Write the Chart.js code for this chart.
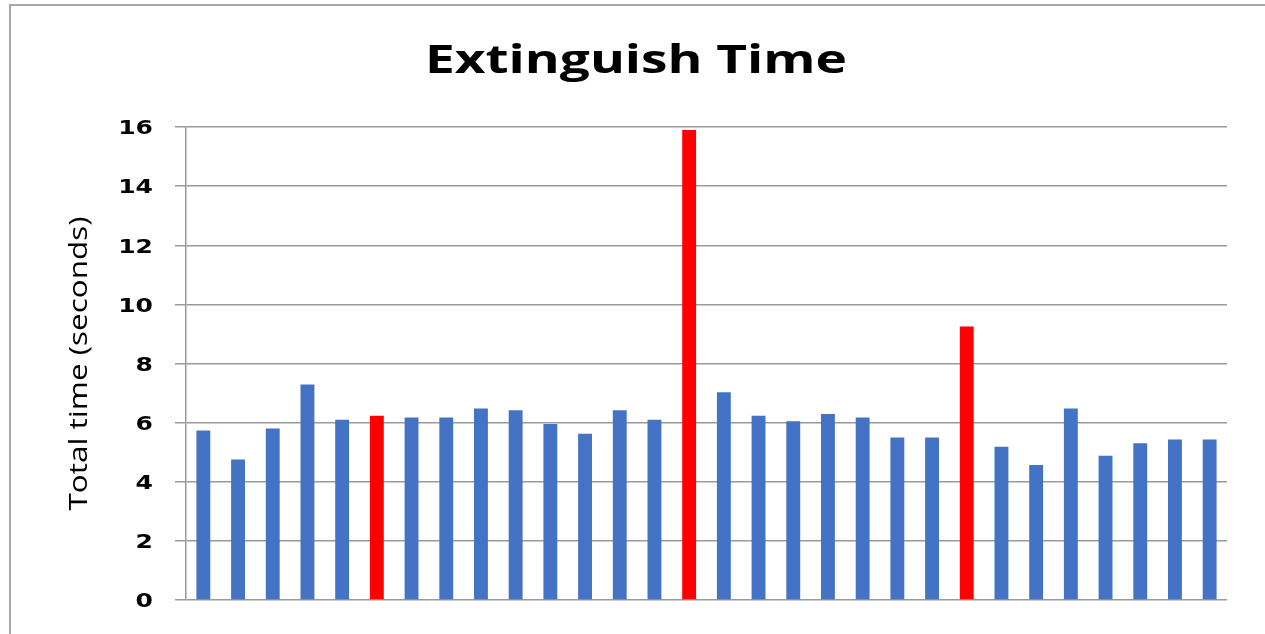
<!DOCTYPE html>
<html>
<head>
<meta charset="utf-8">
<script src="https://cdn.jsdelivr.net/npm/chart.js@4/dist/chart.umd.min.js"></script>
<style>
  html, body { margin: 0; padding: 0; background: #ffffff; }
  #wrap { width: 1265px; height: 634px; position: relative; }
</style>
</head>
<body>
<div id="wrap"><canvas id="c" width="1265" height="634"></canvas></div>
<script>
// Trial numbers along the horizontal axis (not labelled on the chart)
const trials = [1,2,3,4,5,6,7,8,9,10,11,12,13,14,15,16,17,18,19,20,21,22,23,24,25,26,27,28,29,30];

// Total extinguish time per trial, in seconds
const totalTime = [5.73, 4.75, 5.80, 7.29, 6.10, 6.23, 6.17, 6.17, 6.48, 6.42,
                   5.95, 5.62, 6.42, 6.10, 15.9, 7.03, 6.23, 6.05, 6.29, 6.17,
                   5.50, 5.50, 9.25, 5.18, 4.57, 6.48, 4.88, 5.30, 5.43, 5.43];

// Trials highlighted in red (outliers)
const highlighted = [6, 15, 23];

// Y axis tick range
const yMin = 0, yMax = 16, yStep = 2;

const chartTitle = 'Extinguish Time';
const yAxisTitle = 'Total time (seconds)';

const BLUE = '#4472C4';
const RED = '#FF0000';
const GRID = '#9a9a9a';

const barColors = trials.map(t => highlighted.includes(t) ? RED : BLUE);

// White background plus the light grey frame around the chart object
const framePlugin = {
  id: 'frame',
  beforeDraw(chart) {
    const ctx = chart.ctx;
    ctx.save();
    ctx.fillStyle = '#ffffff';
    ctx.fillRect(0, 0, chart.width, chart.height);
    ctx.strokeStyle = '#a6a6a6';
    ctx.lineWidth = 2;
    ctx.strokeRect(10, 5, chart.width + 50, chart.height + 50);
    ctx.restore();
  }
};

// Wide-set text: chart title, rotated axis title and the y tick labels
const textPlugin = {
  id: 'wideText',
  afterDraw(chart) {
    const ctx = chart.ctx;
    const y = chart.scales.y;
    const area = chart.chartArea;
    ctx.save();
    ctx.fillStyle = '#000000';

    // chart title
    ctx.save();
    ctx.font = 'bold 40px "Open Sans"';
    ctx.textAlign = 'center';
    ctx.textBaseline = 'alphabetic';
    ctx.translate(636, 72.5);
    ctx.scale(1.33, 1);
    ctx.fillText(chartTitle, 0, 0);
    ctx.restore();

    // y axis title, reading bottom to top
    ctx.save();
    ctx.font = '26px "Open Sans"';
    ctx.textAlign = 'center';
    ctx.textBaseline = 'alphabetic';
    ctx.translate(87, (area.top + area.bottom) / 2);
    ctx.rotate(-Math.PI / 2);
    ctx.scale(1.21, 1);
    ctx.fillText(yAxisTitle, 0, 0);
    ctx.restore();

    // y tick labels
    ctx.font = 'bold 20px "DejaVu Sans"';
    ctx.textAlign = 'right';
    ctx.textBaseline = 'alphabetic';
    y.ticks.forEach(t => {
      const py = y.getPixelForValue(t.value);
      ctx.save();
      ctx.translate(153, py + 7.3);
      ctx.scale(1.25, 1);
      ctx.fillText(String(t.value), 0, 0);
      ctx.restore();
    });
    ctx.restore();
  }
};

new Chart(document.getElementById('c'), {
  type: 'bar',
  data: {
    labels: trials,
    datasets: [{
      data: totalTime,
      backgroundColor: barColors,
      borderWidth: 0,
      barPercentage: 0.4,
      categoryPercentage: 1.0
    }]
  },
  options: {
    responsive: false,
    animation: false,
    events: [],
    layout: { padding: { left: 0, right: 38, top: 127, bottom: 34 } },
    plugins: {
      legend: { display: false },
      tooltip: { enabled: false },
      title: { display: false }
    },
    scales: {
      x: {
        display: false,
        grid: { display: false }
      },
      y: {
        min: yMin,
        max: yMax,
        afterFit(scale) { scale.width = 186; },
        ticks: { stepSize: yStep, display: false },
        grid: {
          color: GRID,
          lineWidth: 1.5,
          tickLength: 11,
          drawTicks: true
        },
        border: { display: true, color: GRID, width: 1.5 },
        title: { display: false }
      }
    }
  },
  plugins: [framePlugin, textPlugin]
});
</script>
</body>
</html>
